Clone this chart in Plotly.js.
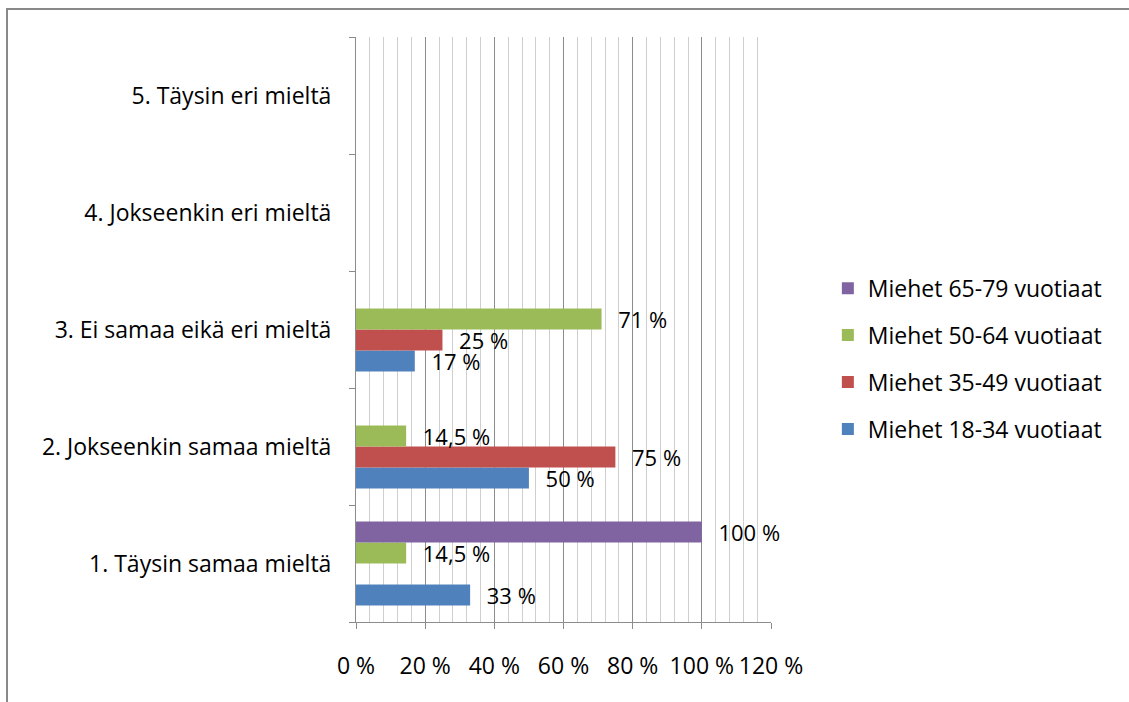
<!DOCTYPE html>
<html>
<head>
<meta charset="utf-8">
<script src="https://cdn.plot.ly/plotly-3.0.1.min.js"></script>
<style>
  html, body { margin: 0; padding: 0; background: #fff; overflow: hidden; }
  #frame { position: absolute; left: 6px; top: 8px; width: 1200px; height: 800px;
           border-left: 2px solid #898989; border-top: 2px solid #898989; box-sizing: border-box; pointer-events: none; }
  #chart { position: absolute; left: 0; top: 0; width: 1129px; height: 702px; }
</style>
</head>
<body>
<div id="chart"></div>
<div id="frame"></div>
<script>
// Categories (bottom to top)
const categories = [
  "1. Täysin samaa mieltä",
  "2. Jokseenkin samaa mieltä",
  "3. Ei samaa eikä eri mieltä",
  "4. Jokseenkin eri mieltä",
  "5. Täysin eri mieltä"
];

// Series names
const seriesNames = [
  "Miehet 18-34 vuotiaat",
  "Miehet 35-49 vuotiaat",
  "Miehet 50-64 vuotiaat",
  "Miehet 65-79 vuotiaat"
];

// Series values (percent), null = no bar
const men18_34 = [33, 50, 17, null, null];
const men35_49 = [null, 75, 25, null, null];
const men50_64 = [14.5, 14.5, 71, null, null];
const men65_79 = [100, null, null, null, null];

// Axis ticks
const xTickVals = [0, 20, 40, 60, 80, 100, 120];

const seriesValues = [men18_34, men35_49, men50_64, men65_79];
const seriesColors = ["#4F81BD", "#C0504D", "#9BBB59", "#8064A2"];

const FONT = "Open Sans, Noto Sans, sans-serif";
const FS = 23;
const PAD = "\u00a0\u00a0\u200a";

function label(v) {
  if (v === null) return "";
  return PAD + String(v).replace(".", ",") + " %";
}

const traces = seriesValues.map((vals, i) => ({
  type: "bar",
  orientation: "h",
  name: seriesNames[i],
  y: categories,
  x: vals,
  text: vals.map(label),
  textposition: "outside",
  textfont: { family: FONT, size: 22, color: "#000" },
  constraintext: "none",
  cliponaxis: false,
  marker: { color: seriesColors[i] },
  legendgroup: "g" + i,
  legendrank: 1000 - i,
  hoverinfo: "x+name"
}));

const layout = {
  width: 1129,
  height: 702,
  margin: { l: 356, r: 358, t: 37, b: 80 },
  paper_bgcolor: "#ffffff",
  plot_bgcolor: "#ffffff",
  font: { family: FONT, size: FS, color: "#000" },
  barmode: "group",
  bargap: 0.28,
  bargroupgap: 0,
  showlegend: true,
  legend: {
    x: 1.137, xanchor: "left",
    y: 0.45, yanchor: "middle",
    traceorder: "grouped",
    tracegroupgap: 14,
    font: { family: FONT, size: FS, color: "#000" },
    bgcolor: "rgba(0,0,0,0)"
  },
  xaxis: {
    range: [0, 120],
    tickvals: xTickVals,
    ticktext: xTickVals.map(v => v + " %"),
    showgrid: true,
    gridcolor: "#8c8c8c",
    gridwidth: 1,
    minor: { dtick: 4, showgrid: true, gridcolor: "#cfcfcf", gridwidth: 1 },
    showline: true,
    linecolor: "#8c8c8c",
    linewidth: 1,
    ticks: "outside",
    ticklen: 6,
    tickcolor: "#8c8c8c",
    ticklabelstandoff: 17,
    zeroline: false,
    fixedrange: true,
    tickfont: { family: FONT, size: FS, color: "#000" }
  },
  yaxis: {
    type: "category",
    categoryorder: "array",
    categoryarray: categories,
    showgrid: false,
    showline: true,
    linecolor: "#8c8c8c",
    linewidth: 1,
    ticks: "outside",
    tickson: "boundaries",
    ticklen: 6,
    tickcolor: "#8c8c8c",
    ticklabelstandoff: 19,
    zeroline: false,
    fixedrange: true,
    tickfont: { family: FONT, size: FS, color: "#000" }
  }
};

Plotly.newPlot("chart", traces, layout, { displayModeBar: false, staticPlot: true });
</script>
</body>
</html>
